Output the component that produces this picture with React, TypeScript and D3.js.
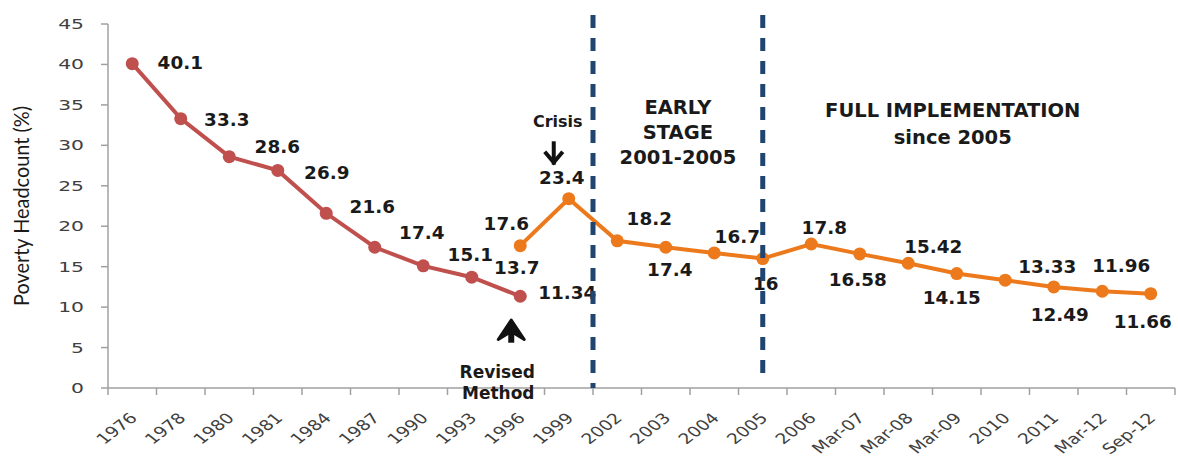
import * as d3 from 'd3'

const W = 1178
const H = 464

// x categories (survey rounds)
const categories = [
  '1976', '1978', '1980', '1981', '1984', '1987', '1990', '1993', '1996',
  '1999', '2002', '2003', '2004', '2005', '2006', 'Mar-07', 'Mar-08',
  'Mar-09', '2010', '2011', 'Mar-12', 'Sep-12',
]

// old methodology series
const oldCats = ['1976', '1978', '1980', '1981', '1984', '1987', '1990', '1993', '1996']
const oldValues = [40.1, 33.3, 28.6, 26.9, 21.6, 17.4, 15.1, 13.7, 11.34]

// revised methodology series
const newCats = [
  '1996', '1999', '2002', '2003', '2004', '2005', '2006', 'Mar-07', 'Mar-08',
  'Mar-09', '2010', '2011', 'Mar-12', 'Sep-12',
]
const newValues = [17.6, 23.4, 18.2, 17.4, 16.7, 16, 17.8, 16.58, 15.42, 14.15, 13.33, 12.49, 11.96, 11.66]

const yTicks = [0, 5, 10, 15, 20, 25, 30, 35, 40, 45]

// label nudges (px, relative to the point) – layout only
const oldLabelOffsets = [[48, -1], [46, 1], [48, -10], [49, 2], [46, -6], [47, -14], [47, -11], [45, -9], [47, -3]]
const newLabelOffsets = [
  [-14, -22], [-7, -21], [32, -22], [4, 23], [23, -16], [3, 25], [13, -16],
  [-2, 26], [25, -16], [-5, 24], [42, -13], [6, 28], [19, -25], [-8, 28],
]

const RED = '#C0504D'
const ORANGE = '#EC7A1C'
const NAVY = '#1F4570'
const AXIS = '#A0A0A0'
const FONT = '"DejaVu Sans", Verdana, sans-serif'

function SText({ x, y, sx = 1, rot = 0, anchor = 'middle', size, weight = 'normal', fill = '#1a1a1a', family = FONT, dy, children }: any) {
  return (
    <text
      transform={`translate(${x},${y}) scale(${sx},1)${rot ? ` rotate(${rot})` : ''}`}
      textAnchor={anchor}
      fontFamily={family}
      fontSize={size}
      fontWeight={weight}
      fill={fill}
      dy={dy}
    >
      {children}
    </text>
  )
}

export default function App() {
  const x = d3.scaleBand().domain(categories).range([108, 1175]).padding(0)
  const xc = (c: string) => (x(c) ?? 0) + x.bandwidth() / 2
  const y = d3.scaleLinear().domain([0, 45]).range([388, 24])

  const line = d3
    .line<[string, number]>()
    .x((d) => xc(d[0]))
    .y((d) => y(d[1]))

  const oldData = oldCats.map((c, i) => [c, oldValues[i]] as [string, number])
  const newData = newCats.map((c, i) => [c, newValues[i]] as [string, number])

  const tickXs = categories.map((c) => x(c) ?? 0).concat([x.range()[1]])

  const line1X = x('2002') ?? 0
  const line2X = xc('2005')

  return (
    <svg width={W} height={H} style={{ position: 'absolute', left: 0, top: 0, background: '#fff' }}>
      {/* y axis */}
      <line x1={108} x2={108} y1={y(45)} y2={y(0)} stroke={AXIS} strokeWidth={1.5} />
      {yTicks.map((t) => (
        <g key={t}>
          <line x1={101} x2={108} y1={y(t)} y2={y(t)} stroke={AXIS} strokeWidth={1.5} />
          <SText x={84} y={y(t)} dy="0.36em" sx={1.45} anchor="end" size={14} fill="#404040">
            {t}
          </SText>
        </g>
      ))}
      <text
        transform={`translate(29,${y(22.5)}) scale(1.25,1) rotate(-90)`}
        textAnchor="middle"
        fontFamily="Lato, 'Open Sans', sans-serif"
        fontSize={17}
        fill="#1a1a1a"
        textLength={200}
        lengthAdjust="spacingAndGlyphs"
      >
        Poverty Headcount (%)
      </text>

      {/* x axis ticks + labels */}
      {tickXs.map((tx, i) => (
        <line key={i} x1={tx} x2={tx} y1={y(0)} y2={y(0) + 7} stroke={AXIS} strokeWidth={1.5} />
      ))}
      {categories.map((c) => (
        <SText key={c} x={xc(c) + 6} y={419} sx={1.3} rot={-45} anchor="end" size={14.5} fill="#404040">
          {c}
        </SText>
      ))}

      {/* Revised Method box hides ticks */}
      <rect x={457} y={389} width={86} height={14} fill="#fff" />
      <line x1={108} x2={x.range()[1]} y1={y(0)} y2={y(0)} stroke={AXIS} strokeWidth={1.5} />

      {/* series */}
      <path d={line(oldData) ?? ''} fill="none" stroke={RED} strokeWidth={4} />
      {oldData.map((d) => (
        <circle key={d[0]} cx={xc(d[0])} cy={y(d[1])} r={6.5} fill={RED} />
      ))}
      <path d={line(newData) ?? ''} fill="none" stroke={ORANGE} strokeWidth={4} />
      {newData.map((d) => (
        <circle key={d[0]} cx={xc(d[0])} cy={y(d[1])} r={6.5} fill={ORANGE} />
      ))}

      {/* data labels */}
      {oldData.map((d, i) => (
        <SText key={'o' + i} x={xc(d[0]) + oldLabelOffsets[i][0]} y={y(d[1]) + oldLabelOffsets[i][1]} dy="0.36em" sx={1.08} size={17} weight="bold">
          {d[1]}
        </SText>
      ))}
      {newData.map((d, i) => (
        <SText key={'n' + i} x={xc(d[0]) + newLabelOffsets[i][0]} y={y(d[1]) + newLabelOffsets[i][1]} dy="0.36em" sx={1.08} size={17} weight="bold">
          {d[1]}
        </SText>
      ))}

      {/* annotations */}
      <SText x={xc('1999') - 11} y={y(33)} dy="0.36em" size={16} weight="bold">Crisis</SText>
      <g stroke="#111" strokeWidth={4} fill="none" strokeLinecap="butt">
        <line x1={xc('1999') - 15} x2={xc('1999') - 15} y1={y(30.5)} y2={y(27.6)} />
        <polyline points={`${xc('1999') - 24},${y(29.2)} ${xc('1999') - 15},${y(27.9)} ${xc('1999') - 6},${y(29.2)}`} strokeWidth={4} />
      </g>
      <g fill="#111" stroke="#111" strokeLinejoin="round">
        <line x1={xc('1996') - 9} x2={xc('1996') - 9} y1={y(5.6)} y2={y(7.5)} strokeWidth={6} />
        <path
          d={`M${xc('1996') - 22},${y(6.0)} L${xc('1996') - 9},${y(8.4)} L${xc('1996') + 4},${y(6.0)} L${xc('1996') - 9},${y(7.0)} Z`}
          strokeWidth={3}
        />
      </g>
      <SText x={xc('1996') - 23} y={y(2.0)} dy="0.36em" size={17} weight="bold">Revised</SText>
      <SText x={xc('1996') - 22} y={y(-0.6)} dy="0.36em" size={17} weight="bold">Method</SText>

      <SText x={(line1X + line2X) / 2} y={y(34.8)} dy="0.36em" size={19.5} weight="bold">EARLY</SText>
      <SText x={(line1X + line2X) / 2} y={y(31.6)} dy="0.36em" size={19.5} weight="bold">STAGE</SText>
      <SText x={(line1X + line2X) / 2} y={y(28.5)} dy="0.36em" size={19.5} weight="bold">2001-2005</SText>

      <SText x={xc('Mar-09') - 4} y={y(34.4)} dy="0.36em" size={19.5} weight="bold">FULL IMPLEMENTATION</SText>
      <SText x={xc('Mar-09') - 4} y={y(31.0)} dy="0.36em" size={19.5} weight="bold">since 2005</SText>

      {/* phase dividers */}
      <line x1={line1X} x2={line1X} y1={y(46.1)} y2={y(0)} stroke={NAVY} strokeWidth={5} strokeDasharray="13 10" />
      <line x1={line2X} x2={line2X} y1={y(46.1)} y2={y(1.6)} stroke={NAVY} strokeWidth={5} strokeDasharray="13 10" />
    </svg>
  )
}
